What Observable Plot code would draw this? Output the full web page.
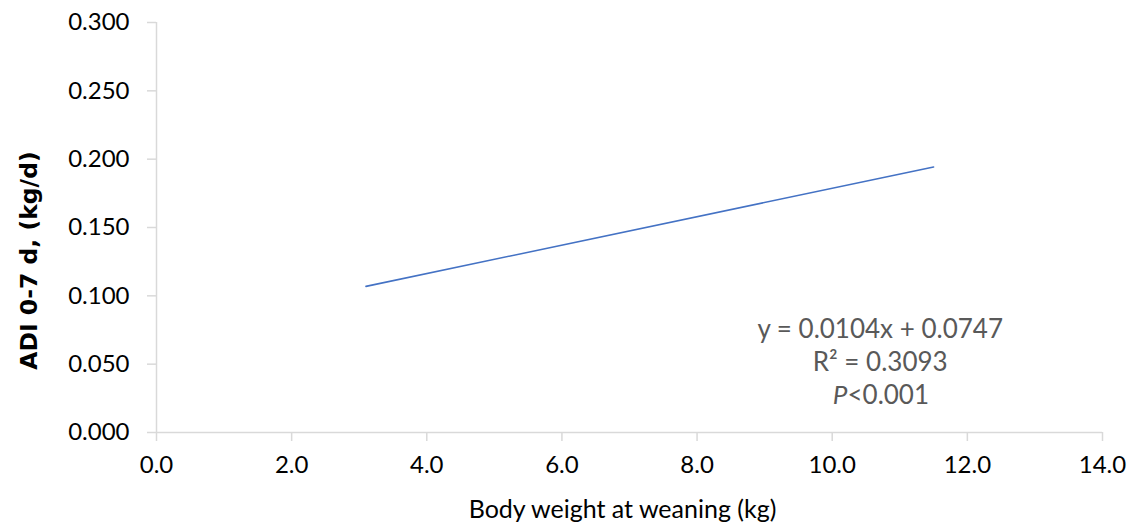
<!DOCTYPE html>
<html>
<head>
<meta charset="utf-8">
<script src="https://cdn.jsdelivr.net/npm/d3@7"></script>
<script src="https://cdn.jsdelivr.net/npm/@observablehq/plot@0.6"></script>
<style>
  html, body { margin: 0; padding: 0; background: #fff; }
</style>
</head>
<body>
<div id="chart"></div>
<script>
// Fitted trend line endpoints (x: body weight at weaning, kg)
const lineX = [3.1, 11.5];
const slope = 0.0104;
const intercept = 0.0747;
const lineY = lineX.map(x => slope * x + intercept);

const xTicks = [0, 2, 4, 6, 8, 10, 12, 14];
const yTicks = [0, 0.05, 0.10, 0.15, 0.20, 0.25, 0.30];

const xLabel = "Body weight at weaning (kg)";
const yLabel = "ADI 0-7 d, (kg/d)";

const annotationLines = ["y = 0.0104x + 0.0747", "R² = 0.3093"];
const annotationP = ["P", "<0.001"];
// annotation placement in data units
const annX = [10.71, 10.226];
const annY = [0.0756, 0.0514, 0.0273];

const lineData = lineX.map((x, i) => ({x, y: lineY[i]}));

const gray = "#d9d9d9";
const chart = Plot.plot({
  width: 1134,
  height: 526,
  marginLeft: 156,
  marginRight: 32,
  marginTop: 22,
  marginBottom: 94,
  style: {fontFamily: "Lato, sans-serif", fontSize: "24px", color: "#000", background: "#fff"},
  x: {domain: [0, 14]},
  y: {domain: [0, 0.3]},
  marks: [
    Plot.ruleY([0], {stroke: gray, strokeWidth: 1.5}),
    Plot.ruleX([0], {stroke: gray, strokeWidth: 1.5}),
    Plot.axisX(xTicks, {tickSize: 9, stroke: gray, strokeWidth: 1.5, fill: "#000", tickPadding: 14, tickFormat: d3.format(".1f"), fontSize: 24, label: null}),
    Plot.axisY(yTicks, {tickSize: 9, stroke: gray, strokeWidth: 1.5, fill: "#000", tickPadding: 18, tickFormat: d3.format(".3f"), fontSize: 24, label: null}),
    Plot.line(lineData, {x: "x", y: "y", stroke: "#4472C4", strokeWidth: 1.6}),
    Plot.text(annotationLines, {x: () => annX[0], y: (d, i) => annY[i], text: d => d, fill: "#595959", fontSize: 26, textAnchor: "middle"}),
    Plot.text([annotationP[0]], {x: () => annX[1], y: () => annY[2], text: d => d, fill: "#595959", fontSize: 26, fontStyle: "italic", textAnchor: "end"}),
    Plot.text([annotationP[1]], {x: () => annX[1], y: () => annY[2], text: d => d, fill: "#595959", fontSize: 26, textAnchor: "start"}),
    Plot.text([xLabel], {frameAnchor: "bottom", text: d => d, lineAnchor: "middle", textAnchor: "middle", dx: -7, dy: 77, fontSize: 25, fill: "#000"}),
    Plot.text([yLabel], {frameAnchor: "left", text: d => d, rotate: -90, textAnchor: "middle", lineAnchor: "middle", dx: -127, dy: 33, fontSize: 23.5, fontWeight: "bold", fontFamily: "'DejaVu Sans', Verdana, sans-serif", fill: "#000"})
  ]
});
document.getElementById("chart").appendChild(chart);
</script>
</body>
</html>
